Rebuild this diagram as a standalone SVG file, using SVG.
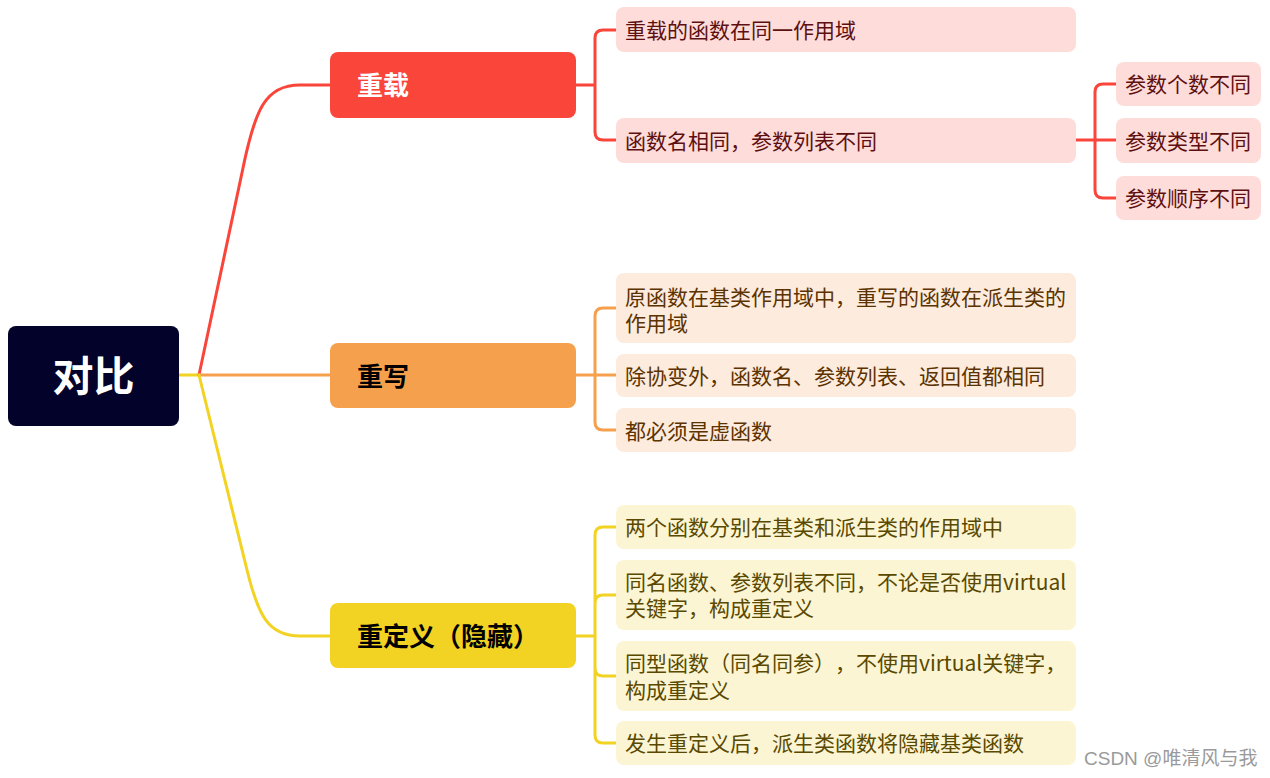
<svg xmlns="http://www.w3.org/2000/svg" width="1270" height="778" viewBox="0 0 1270 778">
<style>
text{text-spacing-trim:space-all;font-feature-settings:"halt" 0,"chws" 0}
.c{fill:none;stroke-width:3;stroke-linecap:round;stroke-linejoin:round}
.cr{stroke:#FA453B}.co{stroke:#F5A04D}.cy{stroke:#F2D323}
.t{font-family:"Noto Sans CJK SC","Noto Sans",sans-serif;font-size:21px}
.b{font-family:"Noto Sans CJK SC","Noto Sans",sans-serif;font-size:26px;font-weight:700}
.lr{fill:#FDDCDA}.lo{fill:#FDEBDD}.ly{fill:#FCF5D3}
.tr{fill:#5E1010}.to{fill:#5C3300}.ty{fill:#5A4900}
</style>
<rect width="1270" height="778" fill="#ffffff"/>
<g id="connectors">
<path class="c cy" d="M179,375 H199"/>
<path class="c cr" d="M199,375 L243,168 C255,110 265,85 300,85 H330"/>
<path class="c co" d="M199,375 H330"/>
<path class="c cy" d="M199,375 L247,570 C258,615 268,636 300,636 H330"/>
<path class="c cr" d="M576,85 H595 M595,85 V38 Q595,30 603,30 H616 M595,85 V132 Q595,140 603,140 H616"/>
<path class="c cr" d="M1076,140 H1095 M1095,140 V92 Q1095,84 1103,84 H1116 M1095,140 H1116 M1095,140 V190 Q1095,198 1103,198 H1116"/>
<path class="c co" d="M576,375 H595 M595,375 V316 Q595,308 603,308 H616 M595,375 H616 M595,375 V422 Q595,430 603,430 H616"/>
<path class="c cy" d="M576,636 H595 M595,636 V535 Q595,527 603,527 H616 M595,636 V603 Q595,595 603,595 H616 M595,636 V668 Q595,676 603,676 H616 M595,636 V735 Q595,743 603,743 H616"/>
</g>
<g id="root">
<rect x="8" y="326" width="171" height="100" rx="8" fill="#02022A"/>
<text x="93.5" y="391" text-anchor="middle" font-family="'Noto Sans CJK SC','Noto Sans',sans-serif" font-size="41" font-weight="700" fill="#ffffff">对比</text>
</g>
<g id="overload">
<rect x="330" y="52" width="246" height="66" rx="8" fill="#FA453B"/>
<text class="b" x="357" y="95" fill="#ffffff">重载</text>
</g>
<g id="override">
<rect x="330" y="343" width="246" height="65" rx="8" fill="#F5A04D"/>
<text class="b" x="357" y="386" fill="#000000">重写</text>
</g>
<g id="redefine">
<rect x="330" y="603" width="246" height="65" rx="8" fill="#F2D323"/>
<text class="b" x="357" y="646" fill="#000000">重定义（隐藏）</text>
</g>
<g id="r1">
<rect class="lr" x="616" y="7" width="460" height="45" rx="8"/>
<text class="t tr" x="625" y="38">重载的函数在同一作用域</text>
</g>
<g id="r2">
<rect class="lr" x="616" y="118" width="460" height="45" rx="8"/>
<text class="t tr" x="625" y="149">函数名相同，参数列表不同</text>
</g>
<g id="r2a">
<rect class="lr" x="1116" y="62" width="145" height="44" rx="8"/>
<text class="t tr" x="1125" y="92">参数个数不同</text>
</g>
<g id="r2b">
<rect class="lr" x="1116" y="118" width="145" height="45" rx="8"/>
<text class="t tr" x="1125" y="149">参数类型不同</text>
</g>
<g id="r2c">
<rect class="lr" x="1116" y="176" width="145" height="44" rx="8"/>
<text class="t tr" x="1125" y="206">参数顺序不同</text>
</g>
<g id="o1">
<rect class="lo" x="616" y="273" width="460" height="70" rx="8"/>
<text class="t to"><tspan x="625" y="305">原函数在基类作用域中，重写的函数在派生类的</tspan><tspan x="625" y="331">作用域</tspan></text>
</g>
<g id="o2">
<rect class="lo" x="616" y="354" width="460" height="43" rx="8"/>
<text class="t to" x="625" y="384">除协变外，函数名、参数列表、返回值都相同</text>
</g>
<g id="o3">
<rect class="lo" x="616" y="408" width="460" height="44" rx="8"/>
<text class="t to" x="625" y="439">都必须是虚函数</text>
</g>
<g id="y1">
<rect class="ly" x="616" y="505" width="460" height="44" rx="8"/>
<text class="t ty" x="625" y="535">两个函数分别在基类和派生类的作用域中</text>
</g>
<g id="y2">
<rect class="ly" x="616" y="560" width="460" height="70" rx="8"/>
<text class="t ty"><tspan x="625" y="590">同名函数、参数列表不同，不论是否使用virtual</tspan><tspan x="625" y="616">关键字，构成重定义</tspan></text>
</g>
<g id="y3">
<rect class="ly" x="616" y="641" width="460" height="70" rx="8"/>
<text class="t ty"><tspan x="625" y="671">同型函数（同名同参），不使用virtual关键字，</tspan><tspan x="625" y="698">构成重定义</tspan></text>
</g>
<g id="y4">
<rect class="ly" x="616" y="721" width="460" height="44" rx="8"/>
<text class="t ty" x="625" y="751">发生重定义后，派生类函数将隐藏基类函数</text>
</g>
<text x="1084" y="765" font-family="'Liberation Sans','Noto Sans CJK SC',sans-serif" font-size="19" fill="#9a9a9a">CSDN @唯清风与我</text>
</svg>
